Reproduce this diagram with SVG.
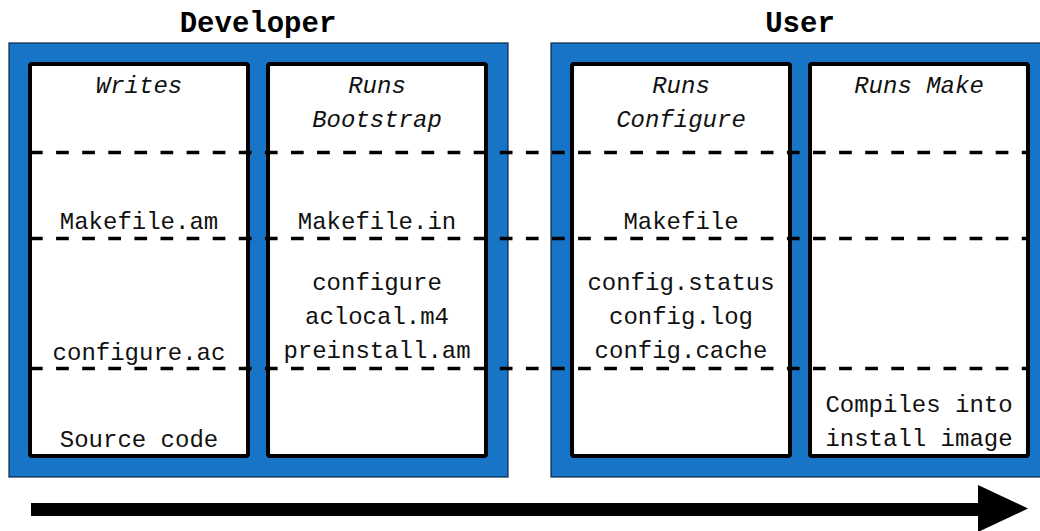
<svg xmlns="http://www.w3.org/2000/svg" width="1040" height="531" viewBox="0 0 1040 531">
<style>
.blue{fill:#1874C6;stroke:#0b2a4a;stroke-width:1.2}
.col{fill:#fff;stroke:#000;stroke-width:4}
.t{font-family:"Liberation Mono","DejaVu Sans Mono",monospace;font-size:24px;fill:#111;text-anchor:middle}
.i{font-style:italic}
.h{font-family:"Liberation Mono","DejaVu Sans Mono",monospace;font-size:29px;font-weight:bold;fill:#000;text-anchor:middle}
.dash{stroke:#000;stroke-width:3.6;stroke-dasharray:12.7 13.4;fill:none}
</style>
<rect width="1040" height="531" fill="#fff"/>
<g id="developer">
<text class="h" x="258" y="32">Developer</text>
<rect class="blue" x="9" y="43" width="499" height="434"/>
</g>
<g id="user">
<text class="h" x="800" y="32">User</text>
<rect class="blue" x="551" y="43" width="495" height="434"/>
</g>
<g id="col-writes">
<rect class="col" x="30" y="64" width="218" height="392" rx="2"/>
<text class="t i" x="139" y="93">Writes</text>
<text class="t" x="139" y="229">Makefile.am</text>
<text class="t" x="139" y="360">configure.ac</text>
<text class="t" x="139" y="447">Source code</text>
</g>
<g id="col-bootstrap">
<rect class="col" x="268" y="64" width="218" height="392" rx="2"/>
<text class="t i" x="377" y="93">Runs</text>
<text class="t i" x="377" y="127">Bootstrap</text>
<text class="t" x="377" y="229">Makefile.in</text>
<text class="t" x="377" y="290">configure</text>
<text class="t" x="377" y="324">aclocal.m4</text>
<text class="t" x="377" y="358">preinstall.am</text>
</g>
<g id="col-configure">
<rect class="col" x="572" y="64" width="218" height="392" rx="2"/>
<text class="t i" x="681" y="93">Runs</text>
<text class="t i" x="681" y="127">Configure</text>
<text class="t" x="681" y="229">Makefile</text>
<text class="t" x="681" y="290">config.status</text>
<text class="t" x="681" y="324">config.log</text>
<text class="t" x="681" y="358">config.cache</text>
</g>
<g id="col-make">
<rect class="col" x="810" y="64" width="218" height="392" rx="2"/>
<text class="t i" x="919" y="93">Runs Make</text>
<text class="t" x="919" y="412">Compiles into</text>
<text class="t" x="919" y="446">install image</text>
</g>
<g id="connectors">
<line class="dash" x1="30" y1="152.5" x2="1030" y2="152.5"/>
<line class="dash" x1="30" y1="238.5" x2="1030" y2="238.5"/>
<line class="dash" x1="30" y1="368.5" x2="1030" y2="368.5"/>
<rect x="31" y="503" width="950" height="13" fill="#000"/>
<polygon points="978,485 1028,508.5 978,532" fill="#000"/>
</g>
</svg>
